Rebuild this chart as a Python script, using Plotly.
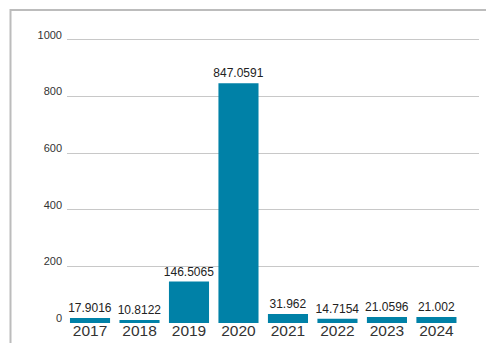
import plotly.graph_objects as go

years = ["2017", "2018", "2019", "2020", "2021", "2022", "2023", "2024"]
values = [17.9016, 10.8122, 146.5065, 847.0591, 31.962, 14.7154, 21.0596, 21.002]
labels = ["17.9016", "10.8122", "146.5065", "847.0591", "31.962", "14.7154", "21.0596", "21.002"]
y_ticks = [0, 200, 400, 600, 800, 1000]

W, H = 486, 343
L, R, T, B = 67, 7, 36.5, 19.5
pw = W - L - R
ph = H - T - B

fig = go.Figure(go.Bar(
    x=list(range(len(years))), y=values,
    marker=dict(color="#0081a7", line=dict(width=0)),
    text=labels, textposition="outside", cliponaxis=False, constraintext="none",
    textfont=dict(family="Liberation Sans, Arial", size=12, color="#222222"),
))

# outer border (top and left)
def px(x):
    return (x - L) / pw

def py(y):
    return (H - B - y) / ph

fig.add_shape(type="rect", xref="paper", yref="paper",
              x0=px(10.5), x1=px(W + 10), y0=py(9.5), y1=py(H + 10),
              line=dict(color="#bcbcbc", width=2), fillcolor="rgba(0,0,0,0)", layer="below")

fig.update_layout(
    width=W, height=H,
    margin=dict(l=L, r=R, t=T, b=B, autoexpand=False),
    paper_bgcolor="white", plot_bgcolor="white",
    bargap=0.19, showlegend=False,
    xaxis=dict(
        range=[-0.465, 7.86], tickmode="array", tickvals=list(range(len(years))), ticktext=years,
        showgrid=False, zeroline=False, showline=False, ticks="", automargin=False,
        tickfont=dict(family="Liberation Sans, Arial", size=15.5, color="#333333"),
        ticklabelstandoff=-4,
    ),
    yaxis=dict(
        range=[0, 1010], tickmode="array", tickvals=y_ticks, automargin=False,
        showgrid=True, gridcolor="#c8c8c8", gridwidth=1, zeroline=False, showline=False,
        ticks="", tickfont=dict(family="Liberation Sans, Arial", size=11, color="#333333"),
        ticklabelshift=-5, ticklabelstandoff=4,
    ),
)

fig.write_html("out.html", config={"displayModeBar": False},
               post_script="document.body.style.margin='0';document.body.style.padding='0';")
